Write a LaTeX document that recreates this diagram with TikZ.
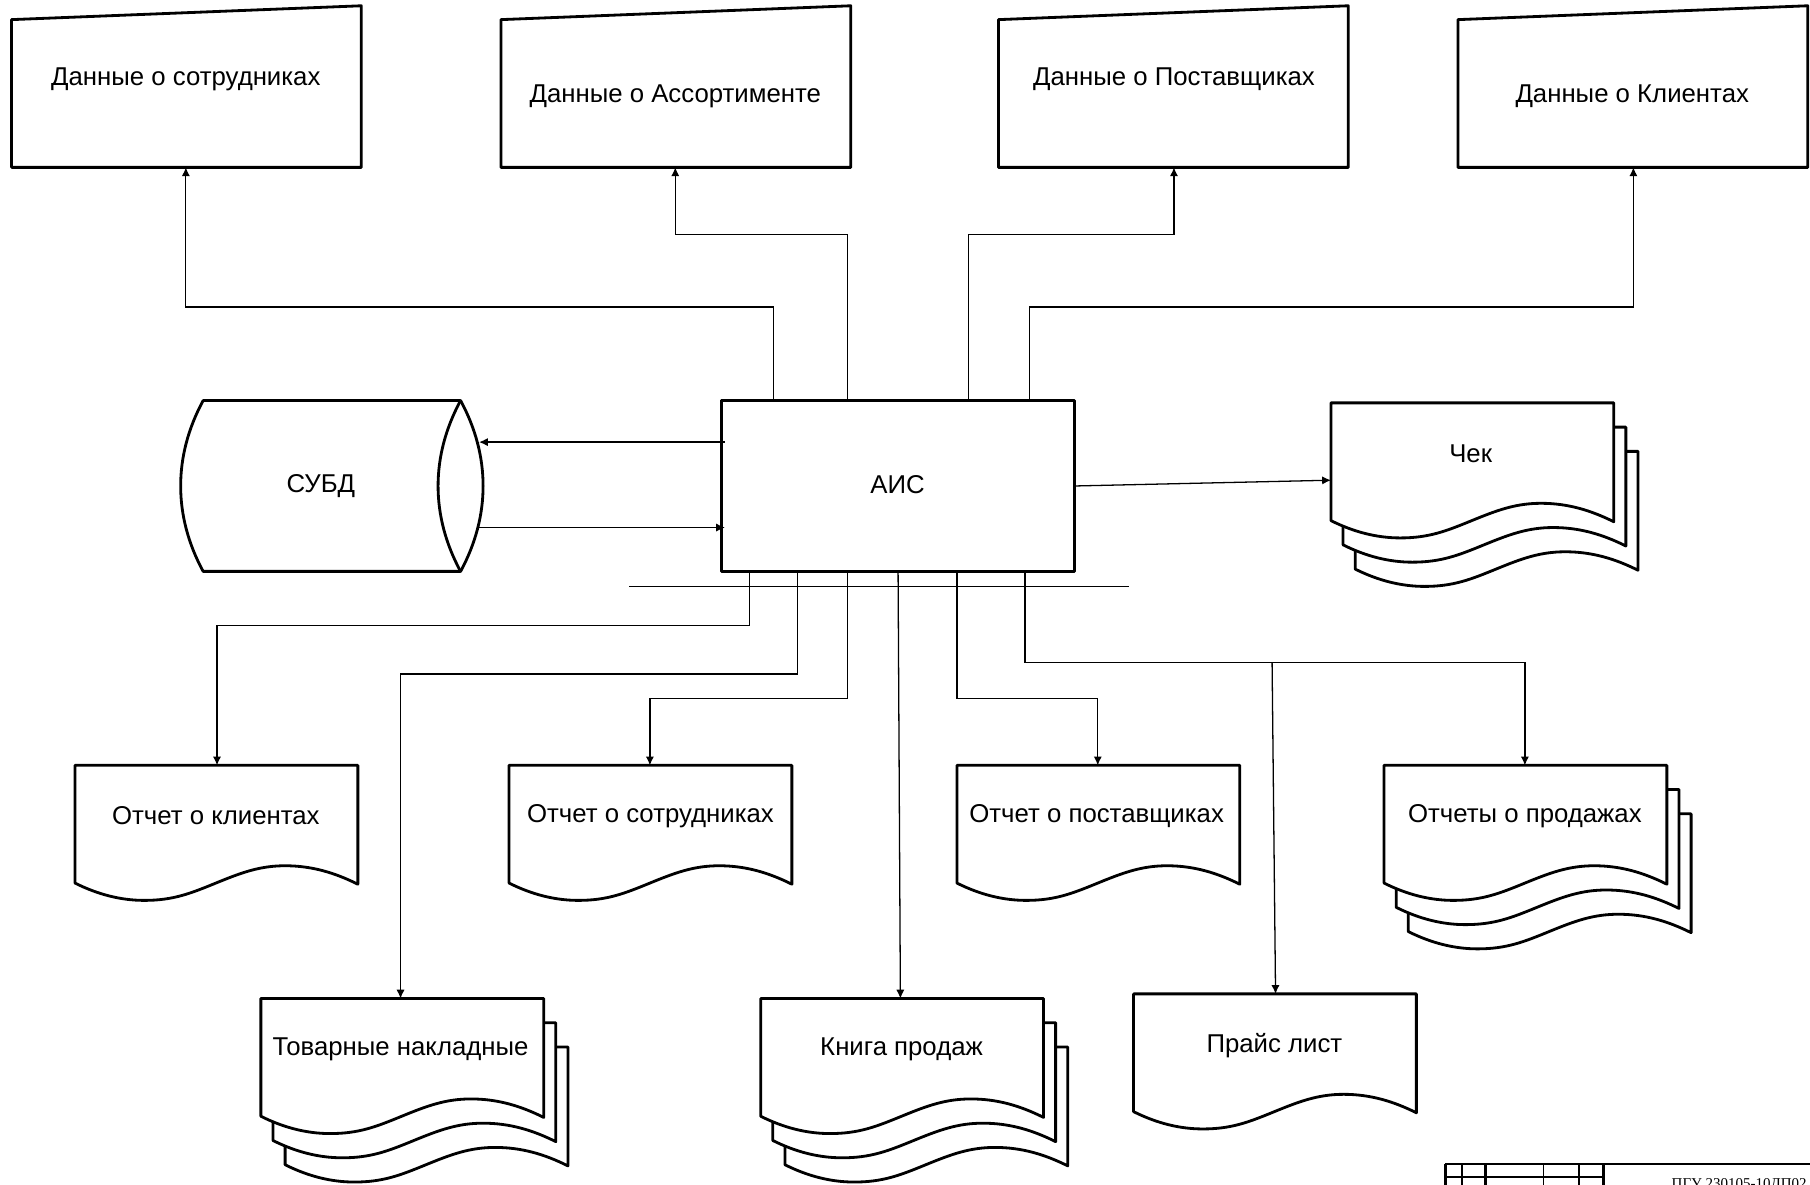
\documentclass[tikz,border=0pt]{standalone}
\usepackage{fontspec}
\setmainfont{Liberation Sans}
\newfontfamily\stampfont{Liberation Serif}
\usetikzlibrary{arrows.meta}
\tikzset{
  x=0.03463cm,y=-0.03463cm,
  shp/.style={draw=black,line width=2.4pt,fill=white,line join=round},
  conn/.style={draw=black,line width=1.1pt,-{Latex[length=7.5pt,width=7pt]}},
  plainln/.style={draw=black,line width=1.1pt},
  lbl/.style={font=\fontsize{22pt}{26pt}\selectfont,inner sep=0pt,text=black},
  doc/.pic={
    \path[shp] (0,0)--(245,0)--(245,103) .. controls (225,93) and (205,87) .. (182,87) .. controls (160,87) and (144,93) .. (122,102) .. controls (100,111) and (85,117) .. (60,117) .. controls (40,117) and (20,112) .. (0,102)--cycle;
  },
  stampthick/.style={draw=black,line width=2.2pt},
  stampthin/.style={draw=black,line width=1pt}
}
\begin{document}
\begin{tikzpicture}
\useasboundingbox (0,0) rectangle (1568,1025.7);
\fill[white] (0,0) rectangle (1568,1025.7);
\clip (0,0) rectangle (1568,1025.7);
% inputs
\path[shp] (10,17)--(313,5)--(313,145)--(10,145)--cycle;
\path[shp] (434,17)--(737,5)--(737,145)--(434,145)--cycle;
\path[shp] (865,17)--(1168,5)--(1168,145)--(865,145)--cycle;
\path[shp] (1263,17)--(1566,5)--(1566,145)--(1263,145)--cycle;
\node[lbl] (t1) at (161,69) {Данные о сотрудниках};
\node[lbl] (t2) at (585,83) {Данные о Ассортименте};
\node[lbl] (t3) at (1017,69) {Данные о Поставщиках};
\node[lbl] (t4) at (1414,83) {Данные о Клиентах};
\coordinate (i1) at (161,145);\coordinate (i2) at (585,145);\coordinate (i3) at (1017,145);\coordinate (i4) at (1415,145);
% AIS
\node[shp,rectangle,lbl,minimum width=10.597cm,minimum height=5.125cm] (ais) at (778,421) {};
\node[lbl] (aist) at (777.6,420) {АИС};
% DB
\path[shp] (176,347)--(399,347) .. controls (425,395) and (425,447) .. (399,495)--(176,495) .. controls (150,447) and (150,395) .. (176,347)--cycle;
\path[shp] (399,347) .. controls (373,395) and (373,447) .. (399,495);
\node[lbl] (db) at (278,421) {СУБД};
% ports on AIS
\coordinate (an1) at (670,347);\coordinate (an2) at (734,347);\coordinate (an3) at (839,347);\coordinate (an4) at (892,347);
\coordinate (as1) at (649,495);\coordinate (as2) at (691,495);\coordinate (as3) at (734,495);\coordinate (as4) at (778,495);\coordinate (as5) at (829,495);\coordinate (as6) at (888,495);
\coordinate (aw1) at (628,383);\coordinate (aw2) at (628,457);\coordinate (ae) at (931,421);
\coordinate (dbe1) at (415,383);\coordinate (dbe2) at (414,457);
% docs stacks
\foreach \dx/\dy in {21/42,10.5/21,0/0} {
  \pic at ({1153+\dx},{349+\dy}) {doc};
  \pic at ({1199+\dx},{663+\dy}) {doc};
  \pic at ({226+\dx},{865+\dy}) {doc};
  \pic at ({659+\dx},{865+\dy}) {doc};
}
\pic at (65,663) {doc};
\pic at (441,663) {doc};
\pic at (829,663) {doc};
\pic at (982,861) {doc};
\node[lbl] (chek) at (1274,393) {Чек};
\node[lbl] (d1) at (187,707) {Отчет о клиентах};
\node[lbl] (d2) at (563.5,707) {Отчет о сотрудниках};
\node[lbl] (d3) at (950,707) {Отчет о поставщиках};
\node[lbl] (d4) at (1321,707) {Отчеты о продажах};
\node[lbl] (d5) at (347,909) {Товарные накладные};
\node[lbl] (d6) at (781,909) {Книга продаж};
\node[lbl] (d7) at (1104,906) {Прайс лист};
\coordinate (c0) at (1153,416);
\coordinate (c1) at (188,663);\coordinate (c2) at (563,663);\coordinate (c3) at (951,663);\coordinate (c4) at (1321,663);
\coordinate (c5) at (347,865);\coordinate (c6) at (780,865);\coordinate (c7) at (1105,861);
% connectors
\draw[conn] (an1)|-(161,266)--(i1);
\draw[conn] (an2)|-(585,203)--(i2);
\draw[conn] (an3)|-(1017,203)--(i3);
\draw[conn] (an4)|-(1415,266)--(i4);
\draw[conn] (aw1)--(dbe1);
\draw[conn] (dbe2)--(aw2);
\draw[conn] (ae)--(c0);
\coordinate (ba) at (545,508);\coordinate (bb) at (978,508);
\draw[plainln] (ba)--(bb);
\draw[conn] (as1)|-(c1|-0,542)--(c1);
\draw[conn] (as2)|-(c5|-0,584)--(c5);
\draw[conn] (as3)|-(c2|-0,605)--(c2);
\draw[conn] (as4)--(c6);
\draw[conn] (as5)|-(c3|-0,605)--(c3);
\draw[conn] (as6)|-(c4|-0,574)--(c4);
\coordinate (br) at (1102,574);
\draw[conn] (br)--(c7);
% stamp
\coordinate (sl) at (1252,1008.5);\coordinate (sr) at (1568,1008.5);
\draw[stampthick] (sl)--(sr);
\draw[stampthin] (1252,1019.6)--(1389,1019.6);
\foreach \xx in {1252,1266.6,1287,1368,1389} \draw[stampthick] (\xx,1008.5)--(\xx,1027);
\draw[stampthin] (1337,1008.5)--(1337,1027);
\node[anchor=base west,inner sep=0pt,font=\stampfont\fontsize{12.8pt}{14pt}\selectfont] (st) at (1448,1029.5) {ПГУ 230105-10ДП02};
\end{tikzpicture}
\end{document}
